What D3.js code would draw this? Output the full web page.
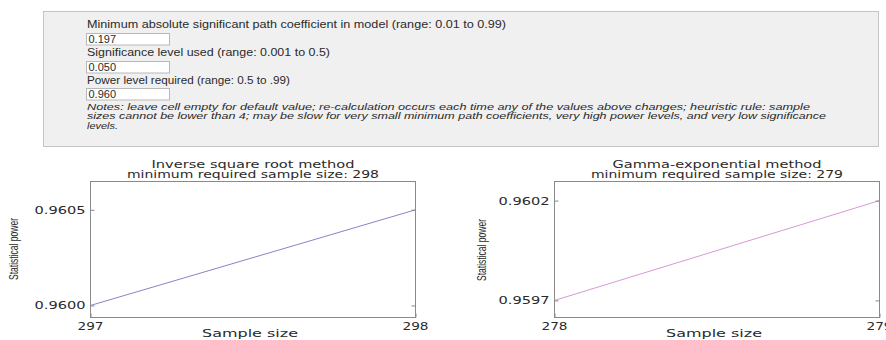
<!DOCTYPE html>
<html><head><meta charset="utf-8">
<script src="https://cdn.jsdelivr.net/npm/d3@7"></script>
<style>
html,body{margin:0;padding:0;background:#fff;}
svg{display:block;font-family:"Liberation Sans",Arial,sans-serif;}
</style></head>
<body>
<svg id="c" width="886" height="340"></svg>
<script>
// ---- data ----
const inputLabels = [
  "Minimum absolute significant path coefficient in model (range: 0.01 to 0.99)",
  "Significance level used (range: 0.001 to 0.5)",
  "Power level required (range: 0.5 to .99)"
];
const inputValues = ["0.197", "0.050", "0.960"];
const notesLines = [
  "Notes: leave cell empty for default value; re-calculation occurs each time any of the values above changes; heuristic rule: sample",
  "sizes cannot be lower than 4; may be slow for very small minimum path coefficients, very high power levels, and very low significance",
  "levels."
];
const methodNames = ["Inverse square root method", "Gamma-exponential method"];
const minRequired = [298, 279];
const sampleSizes1 = [297, 298];
const power1 = [0.9600, 0.9605];
const sampleSizes2 = [278, 279];
const power2 = [0.9597, 0.9602];
const yTicks1 = [0.9600, 0.9605];
const yTicks2 = [0.9597, 0.9602];
const xTicks1 = [297, 298];
const xTicks2 = [278, 279];

const svg = d3.select("#c");
const txt = "#2a2a2a";
const wide = "'DejaVu Sans',Verdana,sans-serif";

// ---- input panel ----
svg.append("rect").attr("x",43.5).attr("y",11.5).attr("width",835).attr("height",135)
  .attr("fill","#f0f0f0").attr("stroke","#c4c4c4");
const labelW = [419, 243, 203];
const labelY = [28, 56, 84];
const boxY = [33, 61, 88];
inputLabels.forEach((t,i)=>{
  svg.append("text").attr("x",87).attr("y",labelY[i]).attr("font-size",10.5).attr("fill",txt)
    .attr("textLength",labelW[i]).attr("lengthAdjust","spacingAndGlyphs").text(t);
  svg.append("rect").attr("x",86.5).attr("y",boxY[i]+0.5).attr("width",83).attr("height",11.5)
    .attr("fill","#fff").attr("stroke","#b8b8b8");
  svg.append("text").attr("x",88.5).attr("y",boxY[i]+10).attr("font-size",11).attr("fill",txt)
    .text(inputValues[i]);
});
const noteW = [723, 739, 31];
notesLines.forEach((t,i)=>{
  svg.append("text").attr("x",87).attr("y",110+i*9.4).attr("font-size",9)
    .attr("font-style","italic").attr("fill",txt)
    .attr("textLength",noteW[i]).attr("lengthAdjust","spacingAndGlyphs").text(t);
});

// ---- charts ----
function chart(cfg){
  const g = svg.append("g");
  const x = d3.scaleLinear().domain(cfg.xDomain).range([cfg.left, cfg.right]);
  const y = d3.scaleLinear().domain(cfg.yDomain).range([cfg.bottom, cfg.top]);
  const pts = cfg.xs.map((v,i)=>[v, cfg.ys[i]]);
  g.append("path").datum(pts)
    .attr("d", d3.line().x(d=>x(d[0])).y(d=>y(d[1])))
    .attr("fill","none").attr("stroke",cfg.color).attr("stroke-width",1);
  const yl = g.append("g").attr("transform",`translate(${cfg.left},0)`)
    .call(d3.axisRight(y).tickValues(cfg.yTicks).tickSize(4).tickFormat(""));
  const yr = g.append("g").attr("transform",`translate(${cfg.right},0)`)
    .call(d3.axisLeft(y).tickValues(cfg.yTicks).tickSize(4).tickFormat(""));
  const xb = g.append("g").attr("transform",`translate(0,${cfg.bottom})`)
    .call(d3.axisTop(x).tickValues(cfg.xTicks).tickSize(4).tickFormat(""));
  [yl,yr,xb].forEach(a=>{a.select(".domain").remove(); a.selectAll("line").attr("stroke","#888");});
  g.append("rect").attr("x",cfg.left).attr("y",cfg.top)
    .attr("width",cfg.right-cfg.left).attr("height",cfg.bottom-cfg.top)
    .attr("fill","none").attr("stroke","#8a8a8a").attr("stroke-width",1);
  cfg.yTicks.forEach(v=>{
    g.append("text").attr("x",cfg.left-5).attr("y",y(v)+4).attr("text-anchor","end")
      .attr("font-family",wide).attr("font-size",11).attr("fill",txt)
      .attr("textLength",51).attr("lengthAdjust","spacingAndGlyphs")
      .text(d3.format(".4f")(v));
  });
  cfg.xTicks.forEach(v=>{
    g.append("text").attr("x",x(v)).attr("y",cfg.bottom+12.5).attr("text-anchor","middle")
      .attr("font-family",wide).attr("font-size",11).attr("fill",txt)
      .attr("textLength",26).attr("lengthAdjust","spacingAndGlyphs")
      .text(v);
  });
  const cx = (cfg.left+cfg.right)/2;
  g.append("text").attr("x",cx-3).attr("y",337).attr("text-anchor","middle")
    .attr("font-family",wide).attr("font-size",10.5).attr("fill",txt)
    .attr("textLength",96).attr("lengthAdjust","spacingAndGlyphs")
    .text("Sample size");
  g.append("text").attr("x",cx).attr("y",167.5).attr("text-anchor","middle")
    .attr("font-family",wide).attr("font-size",10).attr("fill",txt)
    .attr("textLength",cfg.t1w).attr("lengthAdjust","spacingAndGlyphs")
    .text(cfg.title);
  g.append("text").attr("x",cx).attr("y",177.5).attr("text-anchor","middle")
    .attr("font-family",wide).attr("font-size",10).attr("fill",txt)
    .attr("textLength",252).attr("lengthAdjust","spacingAndGlyphs")
    .text("minimum required sample size: " + cfg.minReq);
  g.append("text").attr("transform",`translate(${cfg.ylabX},${cfg.ylabY}) rotate(-90)`)
    .attr("text-anchor","middle").attr("font-size",12).attr("fill",txt)
    .attr("textLength",62).attr("lengthAdjust","spacingAndGlyphs")
    .text("Statistical power");
}

chart({xs:sampleSizes1, ys:power1, xTicks:xTicks1, yTicks:yTicks1,
  xDomain:[297,298], yDomain:[0.959937,0.960648],
  left:90.5, right:415.5, top:181.5, bottom:317.5, color:"#8585c8",
  title:methodNames[0], minReq:minRequired[0], t1w:203, ylabX:18, ylabY:249});
chart({xs:sampleSizes2, ys:power2, xTicks:xTicks2, yTicks:yTicks2,
  xDomain:[278,279], yDomain:[0.9596144,0.9602957],
  left:554.5, right:879.5, top:181.5, bottom:317.5, color:"#d69ad6",
  title:methodNames[1], minReq:minRequired[1], t1w:209, ylabX:486, ylabY:250});
</script>
</body></html>
